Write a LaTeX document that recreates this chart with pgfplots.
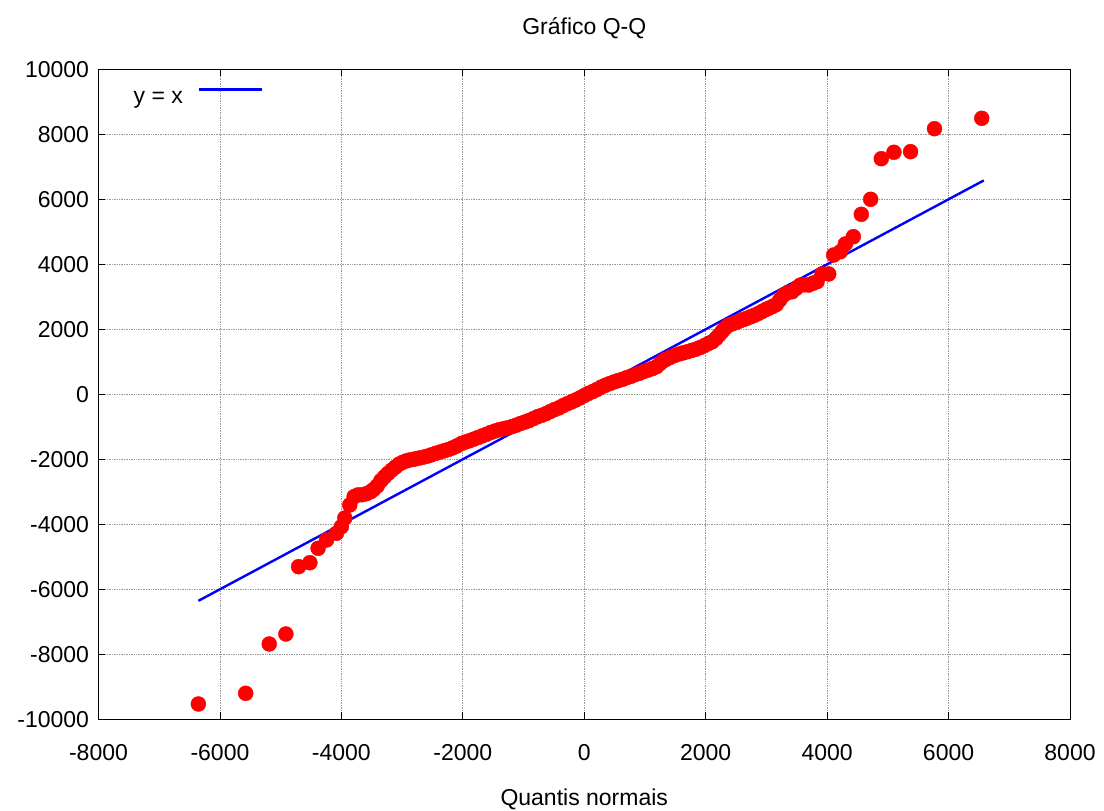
\documentclass[border=0pt]{standalone}
\usepackage{fontspec}
\setmainfont{Liberation Sans}
\usepackage{pgfplots}
\pgfplotsset{compat=1.18}

% sample quantiles against normal quantiles
\pgfplotstableread{
x y
-6355 -9529
-5576 -9200
-5188 -7683
-4914 -7375
-4705 -5304
-4519 -5181
-4383 -4738
-4245 -4483
-4081 -4277
-4000 -4073
-3944 -3806
-3862 -3406
-3790 -3150
-3730 -3098
-3660 -3090
-3590 -3060
-3520 -3000
-3470 -2930
-3410 -2820
-3350 -2660
-3290 -2540
-3230 -2430
-3170 -2330
-3110 -2240
-3050 -2150
-2990 -2090
-2930 -2050
-2870 -2020
-2800 -1995
-2730 -1965
-2660 -1940
-2590 -1905
-2520 -1865
-2450 -1820
-2380 -1780
-2310 -1740
-2240 -1700
-2170 -1650
-2100 -1590
-2030 -1520
-1960 -1470
-1890 -1430
-1820 -1380
-1750 -1330
-1680 -1280
-1610 -1230
-1540 -1175
-1470 -1130
-1400 -1090
-1330 -1060
-1260 -1030
-1190 -995
-1120 -950
-1050 -900
-980 -855
-910 -810
-840 -750
-770 -690
-700 -645
-630 -595
-560 -530
-490 -470
-420 -420
-350 -350
-280 -290
-210 -235
-140 -175
-70 -110
0 -40
70 30
140 85
210 150
280 220
350 280
420 330
490 380
560 420
630 462
700 510
770 555
840 605
910 650
980 700
1050 745
1120 790
1190 850
1250 950
1300 1030
1350 1080
1420 1140
1490 1195
1560 1240
1630 1275
1700 1310
1770 1350
1840 1390
1910 1440
1980 1500
2050 1570
2110 1620
2170 1720
2220 1825
2270 1930
2320 2040
2380 2130
2440 2170
2500 2210
2560 2255
2620 2300
2680 2340
2740 2385
2800 2430
2860 2480
2920 2540
2980 2600
3040 2650
3100 2700
3160 2760
3220 2900
3287 3055
3350 3130
3423 3157
3490 3260
3560 3363
3630 3370
3697 3363
3770 3420
3834 3465
3916 3702
4026 3702
4108 4286
4218 4388
4300 4625
4431 4849
4563 5538
4717 6000
4892 7249
5100 7446
5374 7465
5768 8172
6546 8492
}\qqdata

\newcommand{\chartfont}{\fontsize{23}{27}\selectfont}

\begin{document}
\begin{tikzpicture}
\useasboundingbox (-98.5pt,-91.7pt) rectangle (1005.5pt,719.3pt);
\begin{axis}[
  scale only axis,
  width=971.5pt, height=650pt,
  xmin=-8000, xmax=8000,
  ymin=-10000, ymax=10000,
  xtick distance=2000, ytick distance=2000,
  scaled x ticks=false, scaled y ticks=false,
  tick align=inside,
  major tick length=7pt,
  axis line style={line width=0.8pt},
  tick style={line width=0.8pt, black},
  grid=major,
  major grid style={line width=0.7pt, gray!80, densely dotted},
  /pgf/number format/assume math mode=true,
  /pgf/number format/1000 sep={},
  tick label style={font=\chartfont},
  xticklabel style={anchor=base, yshift=-41pt},
  yticklabel style={anchor=east, xshift=-6pt},
  title={Gráfico Q-Q},
  title style={font=\chartfont, at={(0.5,1)}, anchor=base, yshift=29pt},
  xlabel={Quantis normais},
  xlabel style={font=\chartfont, at={(0.5,0)}, anchor=base, yshift=-86pt},
  legend plot pos=right,
  legend style={font=\chartfont, draw=none, fill=none,
    at={(0,1)}, anchor=north west, xshift=30pt, yshift=-17pt,
    column sep=13pt},
  legend image code/.code={\draw[#1] (0pt,8pt) -- (63pt,8pt);},
]
\addplot[only marks, mark=*, mark size=7.5pt,
  mark options={draw=red, fill=red}, forget plot] table[x=x, y=y] {\qqdata};
\addplot[blue, line width=2.4pt] coordinates {(-6355,-6355) (6580,6580)};
\addlegendentry{y = x}
\end{axis}
\end{tikzpicture}
\end{document}
